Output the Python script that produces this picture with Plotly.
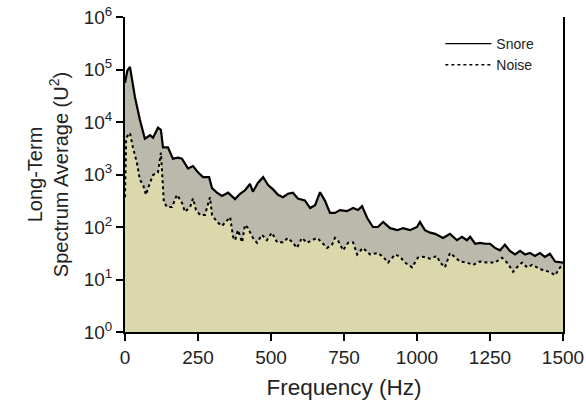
import plotly.graph_objects as go

# snore long-term spectrum
snore_hz = [0, 8, 17, 34, 51, 68, 86, 96, 113, 123, 130, 147, 164, 182, 195, 216, 233, 250,
            267, 288, 298, 315, 332, 353, 377, 394, 411, 428, 438, 455, 473, 490, 507, 524,
            541, 558, 575, 592, 616, 634, 651, 668, 685, 702, 719, 736, 760, 781, 798, 812,
            829, 849, 866, 884, 908, 932, 952, 976, 1000, 1010, 1027, 1045, 1062, 1089, 1113,
            1137, 1154, 1171, 1182, 1199, 1216, 1233, 1250, 1267, 1284, 1301, 1318, 1336,
            1353, 1370, 1387, 1404, 1421, 1438, 1455, 1473, 1500]
snore_val = [56000, 95000, 112000, 30000, 11000, 4800, 5600, 5000, 7800, 7100, 3300, 3300,
             2000, 2100, 2000, 1300, 1450, 1100, 890, 890, 550, 450, 390, 450, 340, 430, 500,
             660, 470, 690, 890, 630, 520, 410, 370, 430, 450, 350, 320, 230, 260, 460, 315,
             185, 185, 210, 200, 230, 210, 250, 150, 100, 100, 125, 95, 87, 95, 87, 100, 125,
             87, 78, 74, 62, 74, 56, 65, 56, 65, 48, 50, 48, 48, 40, 36, 46, 35, 30, 35, 30,
             32, 28, 32, 27, 31, 22, 21]

# background noise spectrum
noise_hz = [0, 4, 17, 27, 41, 51, 62, 72, 79, 96, 113, 123, 128, 133, 144, 161, 178, 195,
            205, 223, 233, 243, 257, 274, 291, 298, 315, 332, 342, 360, 370, 377, 387, 401,
            411, 421, 438, 452, 469, 486, 503, 521, 541, 558, 575, 589, 606, 623, 640, 658,
            675, 692, 709, 719, 729, 747, 764, 781, 795, 815, 839, 866, 884, 901, 925, 942,
            959, 983, 1003, 1021, 1045, 1068, 1079, 1096, 1113, 1130, 1147, 1171, 1192, 1216,
            1240, 1267, 1291, 1312, 1329, 1342, 1360, 1377, 1394, 1411, 1432, 1455, 1473,
            1490, 1500]
noise_val = [370, 5000, 6200, 3300, 1650, 800, 630, 410, 550, 980, 1100, 2600, 890, 300, 240,
             240, 410, 290, 195, 240, 350, 210, 170, 170, 370, 170, 125, 105, 120, 155, 65,
             56, 87, 51, 110, 95, 62, 50, 71, 56, 78, 51, 51, 62, 50, 40, 62, 50, 56, 62, 50,
             40, 46, 62, 56, 36, 50, 51, 30, 40, 30, 32, 27, 21, 30, 27, 21, 17, 26, 27, 25,
             28, 21, 17, 32, 26, 22, 21, 19, 22, 21, 21, 26, 20, 14, 17, 21, 17, 19, 17, 15,
             14, 12, 17, 19]

x_ticks = [0, 250, 500, 750, 1000, 1250, 1500]
y_ticks = [1, 10, 100, 1000, 10000, 100000, 1000000]
y_text = ["10<sup>%d</sup>" % i for i in range(7)]

fnt = "Liberation Sans, Arial, sans-serif"

fig = go.Figure()
fig.add_trace(go.Scatter(x=noise_hz, y=noise_val, mode="lines", fill="tozeroy",
                         fillcolor="#dbd9ab", line=dict(color="black", width=2, dash="dot"),
                         showlegend=False))
fig.add_trace(go.Scatter(x=snore_hz, y=snore_val, mode="lines", fill="tonexty",
                         fillcolor="#bab9ab", line=dict(color="black", width=2.2),
                         showlegend=False))
# legend entries (lines only)
fig.add_trace(go.Scatter(x=[None], y=[None], mode="lines", name="Snore",
                         line=dict(color="black", width=1.2)))
fig.add_trace(go.Scatter(x=[None], y=[None], mode="lines", name="Noise",
                         line=dict(color="black", width=1.5, dash="dot")))

fig.update_layout(
    width=586, height=410,
    margin=dict(l=125, r=23, t=17, b=78),
    paper_bgcolor="white", plot_bgcolor="white",
    font=dict(family=fnt, size=19, color="#222"),
    legend=dict(x=0.72, y=0.965, xanchor="left", yanchor="top",
                font=dict(size=14), bgcolor="rgba(0,0,0,0)", traceorder="normal",
                tracegroupgap=0, itemwidth=46),
)
fig.update_xaxes(range=[0, 1500], tickvals=x_ticks, showgrid=False, zeroline=False,
                 showline=True, linecolor="black", linewidth=2, automargin=False,
                 ticks="outside", ticklen=7, tickwidth=2, tickcolor="black",
                 title=dict(text="Frequency (Hz)", font=dict(size=22.5), standoff=12))
fig.update_yaxes(type="log", range=[0, 6], tickvals=y_ticks, ticktext=y_text,
                 showgrid=False, zeroline=False, mirror=True, automargin=False,
                 showline=True, linecolor="black", linewidth=2,
                 ticks="outside", ticklen=7, tickwidth=2, tickcolor="black",
                 title=dict(text="Long-Term<br>Spectrum Average (U<sup>2</sup>)",
                            font=dict(size=20), standoff=10))

# drop the default page margin so the figure sits at the window corner
fig.write_html("out.html", config={"displayModeBar": False},
               post_script="document.body.style.margin = '0';")
